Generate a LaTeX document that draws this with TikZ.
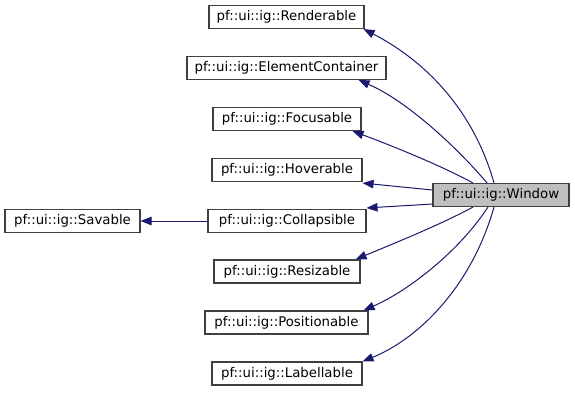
\documentclass[tikz,border=0pt]{standalone}
\usepackage{fontspec}
\setmainfont{DejaVu Sans}
\usetikzlibrary{arrows.meta}
\definecolor{edgeblue}{HTML}{191970}
\definecolor{boxline}{HTML}{404040}
\definecolor{mainfill}{HTML}{BFBFBF}
\tikzset{
  cls/.style={draw=boxline, line width=1.1pt, fill=white, inner sep=0pt,
    minimum height=23pt, font=\fontsize{13.3}{16}\selectfont},
  mainnode/.style={cls, fill=mainfill},
  inherit/.style={draw=edgeblue, line width=1pt,
    -{Triangle[length=11pt,width=8.5pt,fill=edgeblue]}}
}
\begin{document}
\begin{tikzpicture}[x=1pt,y=-1pt]
  \useasboundingbox (0,0) rectangle (575,392);
  % base classes
  \node[cls, minimum width=155pt] (ren)  at (286.5,17)    {pf::ui::ig::Renderable};
  \node[cls, minimum width=199pt] (elc)  at (286.5,68)    {pf::ui::ig::ElementContainer};
  \node[cls, minimum width=148pt] (foc)  at (287,119)     {pf::ui::ig::Focusable};
  \node[cls, minimum width=150pt] (hov)  at (287,170)     {pf::ui::ig::Hoverable};
  \node[cls, minimum width=158pt] (col)  at (287,221)     {pf::ui::ig::Collapsible};
  \node[cls, minimum width=135pt] (sav)  at (72.5,221)    {pf::ui::ig::Savable};
  \node[cls, minimum width=146pt] (res)  at (287,271.5)   {pf::ui::ig::Resizable};
  \node[cls, minimum width=163pt] (pos)  at (286.5,322.5) {pf::ui::ig::Positionable};
  \node[cls, minimum width=150pt] (lab)  at (287,373.5)   {pf::ui::ig::Labellable};
  % derived class
  \node[mainnode, minimum width=136pt] (win) at (501,195) {pf::ui::ig::Window};
  % anchor points on the derived class
  \coordinate (wr) at ([xshift=-7pt]win.north);
  \coordinate (we) at ([xshift=-14pt]win.north);
  \coordinate (wf) at ([xshift=-28pt]win.north);
  \coordinate (wh) at ([yshift=5pt]win.west);
  \coordinate (wc) at ([yshift=-9pt]win.west);
  \coordinate (ws) at ([xshift=-28pt]win.south);
  \coordinate (wp) at ([xshift=-13pt]win.south);
  \coordinate (wl) at ([xshift=-7pt]win.south);
  % inheritance edges
  \draw[inherit] (wr) .. controls (472,105) and (420,58) .. ([xshift=-1pt]ren.south east);
  \draw[inherit] (we) .. controls (455,145) and (405,100) .. ([xshift=-28pt]elc.south east);
  \draw[inherit] (wf) .. controls (440,165) and (390,145) .. ([xshift=-9pt]foc.south east);
  \draw[inherit] (wh) -- ([yshift=-1pt]hov.south east);
  \draw[inherit] (wc) -- ([yshift=1pt]col.north east);
  \draw[inherit] (ws) .. controls (440,225) and (390,245) .. ([xshift=-5pt]res.north east);
  \draw[inherit] (wp) .. controls (460,250) and (410,290) .. ([xshift=-5pt]pos.north east);
  \draw[inherit] (wl) .. controls (472,285) and (420,338) .. ([xshift=0pt]lab.north east);
  \draw[inherit] (col.west) -- (sav.east);
\end{tikzpicture}
\end{document}
